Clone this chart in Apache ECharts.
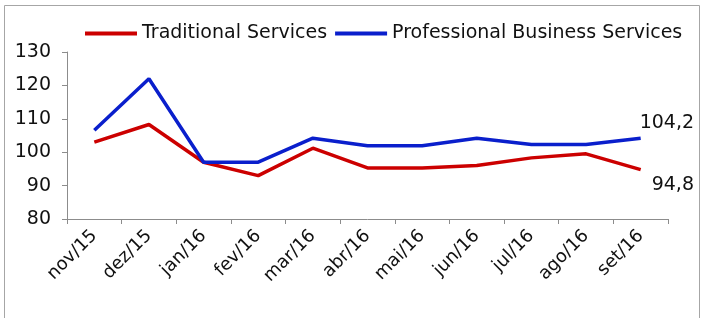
<!DOCTYPE html>
<html>
<head>
<meta charset="utf-8">
<script src="https://cdn.jsdelivr.net/npm/echarts@6/dist/echarts.min.js"></script>
<style>
  html, body { margin: 0; padding: 0; background: #fff; }
  #chart { width: 704px; height: 318px; }
</style>
</head>
<body>
<div id="chart"></div>
<script>
const months = ['nov/15', 'dez/15', 'jan/16', 'fev/16', 'mar/16', 'abr/16', 'mai/16', 'jun/16', 'jul/16', 'ago/16', 'set/16']
const traditional = [103.0, 108.3, 97.0, 93.0, 101.2, 95.3, 95.3, 96.0, 98.3, 99.5, 94.8]
const professional = [106.6, 122.0, 97.0, 97.0, 104.2, 101.9, 101.9, 104.2, 102.3, 102.3, 104.2]
const yTicks = { min: 80, max: 130, step: 10 }

const chart = echarts.init(document.getElementById('chart'))
const font = 'DejaVu Sans, sans-serif'
const axisGray = '#8c8c8c'

// comma decimals, as in the source
const fmt = p => String(p.value).replace('.', ',')

const option = {
  animation: false,
  graphic: [
    {
      type: 'rect',
      shape: { x: 4.5, y: 5.5, width: 695, height: 320 },
      style: { fill: 'none', stroke: '#a6a6a6', lineWidth: 1 }
    }
  ],
  legend: {
    top: 19,
    left: 80,
    itemWidth: 52,
    itemHeight: 4,
    itemGap: 8,
    icon: 'rect',
    textStyle: { fontFamily: font, fontSize: 19, color: '#111' },
    data: ['Traditional Services', 'Professional Business Services']
  },
  grid: { left: 67, right: 36, top: 52, bottom: 99 },
  xAxis: {
    type: 'category',
    data: months,
    boundaryGap: true,
    axisLine: { lineStyle: { color: axisGray } },
    axisTick: { show: true, length: 5, alignWithLabel: false, lineStyle: { color: axisGray } },
    axisLabel: { rotate: 45, margin: 14, fontFamily: font, fontSize: 18, color: '#111' }
  },
  yAxis: {
    type: 'value',
    min: yTicks.min,
    max: yTicks.max,
    interval: yTicks.step,
    splitLine: { show: false },
    axisLine: { show: true, lineStyle: { color: axisGray } },
    axisTick: { show: true, length: 5, lineStyle: { color: axisGray } },
    axisLabel: { margin: 16, fontFamily: font, fontSize: 19, color: '#111' }
  },
  series: [
    {
      name: 'Traditional Services',
      type: 'line',
      data: traditional,
      symbol: 'none',
      color: '#cc0000',
      lineStyle: { width: 3.5, color: '#cc0000' },
      endLabel: { show: true, offset: [3, 15], fontFamily: font, fontSize: 19, color: '#111', formatter: fmt },
      z: 2
    },
    {
      name: 'Professional Business Services',
      type: 'line',
      data: professional,
      symbol: 'none',
      color: '#0a1fcc',
      lineStyle: { width: 3.5, color: '#0a1fcc' },
      endLabel: { show: true, offset: [-9, -15], fontFamily: font, fontSize: 19, color: '#111', formatter: fmt },
      z: 3
    }
  ]
}
chart.setOption(option)
</script>
</body>
</html>
